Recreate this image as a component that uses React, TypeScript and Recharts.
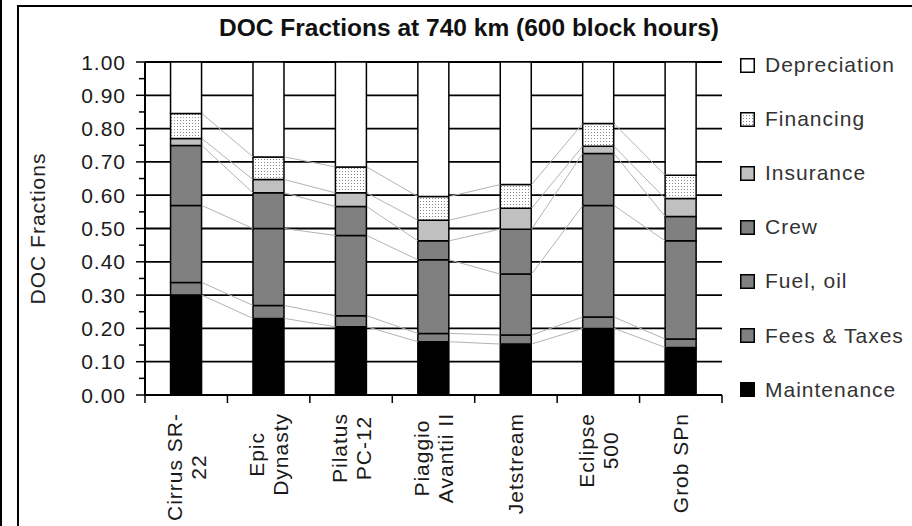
import { Bar, CartesianGrid, ComposedChart, Line, XAxis, YAxis } from "recharts";

const CATEGORIES = [
  "Cirrus SR-22",
  "Epic Dynasty",
  "Pilatus PC-12",
  "Piaggio Avantii II",
  "Jetstream",
  "Eclipse 500",
  "Grob SPn",
];
// how Excel wrapped the category labels
const CATEGORY_LINES = [
  ["Cirrus SR-", "22"],
  ["Epic", "Dynasty"],
  ["Pilatus", "PC-12"],
  ["Piaggio", "Avantii II"],
  ["Jetstream"],
  ["Eclipse", "500"],
  ["Grob SPn"],
];

const MAINTENANCE = [0.3, 0.23, 0.205, 0.16, 0.153, 0.2, 0.143];
const FEES_TAXES = [0.038, 0.039, 0.033, 0.025, 0.027, 0.034, 0.025];
const FUEL_OIL = [0.231, 0.231, 0.241, 0.221, 0.183, 0.335, 0.295];
const CREW = [0.18, 0.107, 0.087, 0.057, 0.135, 0.156, 0.073];
const INSURANCE = [0.021, 0.04, 0.041, 0.062, 0.063, 0.022, 0.054];
const FINANCING = [0.075, 0.068, 0.078, 0.071, 0.071, 0.068, 0.07];
const DEPRECIATION = [0.155, 0.285, 0.315, 0.404, 0.368, 0.185, 0.34];

const Y_TICKS = [
  0, 0.05, 0.1, 0.15, 0.2, 0.25, 0.3, 0.35, 0.4, 0.45, 0.5, 0.55, 0.6, 0.65,
  0.7, 0.75, 0.8, 0.85, 0.9, 0.95, 1,
];
const Y_GRID = [0.1, 0.2, 0.3, 0.4, 0.5, 0.6, 0.7, 0.8, 0.9, 1];

const GRAY = "#808080";
const SERIES = [
  { key: "maintenance", name: "Maintenance", values: MAINTENANCE, fill: "#000" },
  { key: "fees", name: "Fees & Taxes", values: FEES_TAXES, fill: GRAY },
  { key: "fuel", name: "Fuel, oil", values: FUEL_OIL, fill: GRAY },
  { key: "crew", name: "Crew", values: CREW, fill: GRAY },
  { key: "insurance", name: "Insurance", values: INSURANCE, fill: "#c0c0c0" },
  { key: "financing", name: "Financing", values: FINANCING, fill: "url(#dots)" },
  { key: "depreciation", name: "Depreciation", values: DEPRECIATION, fill: "#fff" },
];

const rows = CATEGORIES.map((name, i) => {
  const row: Record<string, number | string> = { name };
  let acc = 0;
  SERIES.forEach((s) => {
    row[s.key] = s.values[i];
    acc += s.values[i];
    row[`${s.key}Top`] = acc;
  });
  return row;
});

const FONT = '"Liberation Sans", Arial, sans-serif';
const FONT_SIZE = 21;
const SPACING = 1;
const BAR_GAP = 0.31;
const BAR_FRACTION = 1 - 2 * BAR_GAP;

let ctx: CanvasRenderingContext2D | null = null;
function textWidth(s: string) {
  if (!ctx) ctx = document.createElement("canvas").getContext("2d");
  if (!ctx) return s.length * 11;
  ctx.font = `${FONT_SIZE}px ${FONT}`;
  return ctx.measureText(s).width + s.length * SPACING;
}

// Excel style series lines: from the right edge of one bar to the left edge of the next
function seriesLineDot(props: any) {
  const { cx, cy, index, points } = props;
  const next = points?.[index + 1];
  if (!next || cx == null) return <g key={`sl-${index}`} />;
  const half = ((next.x - cx) * BAR_FRACTION) / 2;
  return (
    <line
      key={`sl-${index}`}
      x1={cx + half}
      y1={cy}
      x2={next.x - half}
      y2={next.y}
      stroke="#b4b4b4"
      strokeWidth={1}
    />
  );
}

function CategoryTick(props: any) {
  const { x, y, payload, index } = props;
  const i = CATEGORIES.indexOf(payload.value);
  const lines = CATEGORY_LINES[i] ?? [String(payload.value)];
  const half = payload.offset ?? 0;
  const maxW = Math.max(...lines.map(textWidth));
  return (
    <g>
      <line x1={x - half} x2={x - half} y1={y} y2={y + 8} stroke="#000" strokeWidth={1.5} />
      {index === CATEGORIES.length - 1 && (
        <line x1={x + half} x2={x + half} y1={y} y2={y + 8} stroke="#000" strokeWidth={1.5} />
      )}
      <g transform={`translate(${x},${y + 18}) rotate(-90)`}>
        {lines.map((l, j) => (
          <text
            key={j}
            x={-maxW / 2}
            y={(j - (lines.length - 1) / 2) * 24}
            textAnchor="middle"
            dominantBaseline="central"
            fontFamily={FONT}
            fontSize={FONT_SIZE}
            letterSpacing={SPACING}
            fill="#1a1a1a"
          >
            {l}
          </text>
        ))}
      </g>
    </g>
  );
}

function ValueTick(props: any) {
  const { x, y, payload } = props;
  const v = payload.value as number;
  const major = Math.round(v * 100) % 10 === 0;
  return (
    <g>
      <line x1={x - (major ? 9 : 6)} x2={x} y1={y} y2={y} stroke="#000" strokeWidth={1.5} />
      {major && (
        <text
          x={x - 19}
          y={y}
          textAnchor="end"
          dominantBaseline="central"
          fontFamily={FONT}
          fontSize={FONT_SIZE}
          letterSpacing={SPACING}
          fill="#1a1a1a"
        >
          {v.toFixed(2)}
        </text>
      )}
    </g>
  );
}

function Swatch({ fill }: { fill: string }) {
  return (
    <svg width={15} height={15} style={{ display: "block" }}>
      <defs>
        <pattern id="dotsLegend" width={3} height={3} patternUnits="userSpaceOnUse">
          <rect width={3} height={3} fill="#fff" />
          <rect width={1} height={1} fill="#888" />
        </pattern>
      </defs>
      <rect
        x={0.75}
        y={0.75}
        width={13.5}
        height={13.5}
        fill={fill === "url(#dots)" ? "url(#dotsLegend)" : fill}
        stroke="#000"
        strokeWidth={1.5}
      />
    </svg>
  );
}

export default function App() {
  return (
    <div
      style={{
        position: "absolute",
        left: 0,
        top: 0,
        width: 912,
        height: 526,
        overflow: "hidden",
        background: "#fff",
      }}
    >
      <div style={{ position: "absolute", left: 0, top: 0, width: 2, height: 526, background: "#000" }} />
      <div
        style={{
          position: "absolute",
          left: 17,
          top: 5,
          width: 960,
          height: 600,
          borderLeft: "2px solid #000",
          borderTop: "2px solid #000",
        }}
      />
      <svg style={{ position: "absolute", left: 0, top: 0 }} width={912} height={50}>
        <text
          x={469}
          y={36}
          textAnchor="middle"
          fontFamily={FONT}
          fontWeight="bold"
          fontSize={23}
          textLength={500}
          lengthAdjust="spacingAndGlyphs"
          fill="#111"
        >
          DOC Fractions at 740 km (600 block hours)
        </text>
      </svg>
      <div style={{ position: "absolute", left: 0, top: 0 }}>
        <ComposedChart
          width={912}
          height={526}
          data={rows}
          margin={{ top: 62, right: 190, bottom: 0, left: 0 }}
          barCategoryGap={`${BAR_GAP * 100}%`}
        >
          <defs>
            <pattern id="dots" width={3} height={3} patternUnits="userSpaceOnUse">
              <rect width={3} height={3} fill="#fff" />
              <rect width={1} height={1} fill="#888" />
            </pattern>
          </defs>
          <CartesianGrid
            vertical={false}
            horizontalValues={Y_GRID}
            stroke="#000"
            strokeWidth={1.8}
          />
          <XAxis
            dataKey="name"
            height={131}
            interval={0}
            tickLine={false}
            tickSize={0}
            tickMargin={0}
            axisLine={{ stroke: "#000", strokeWidth: 2 }}
            tick={CategoryTick}
          />
          <YAxis
            width={145}
            domain={[0, 1]}
            ticks={Y_TICKS}
            interval={0}
            tickLine={false}
            tickSize={0}
            tickMargin={0}
            axisLine={{ stroke: "#000", strokeWidth: 2 }}
            tick={ValueTick}
            label={(p: any) => {
              const vb = p.viewBox ?? { x: 0, y: 62, width: 145, height: 333 };
              const cy = vb.y + vb.height / 2;
              return (
                <text
                  x={vb.x + 37}
                  y={cy}
                  transform={`rotate(-90 ${vb.x + 37} ${cy})`}
                  textAnchor="middle"
                  dominantBaseline="central"
                  fontFamily={FONT}
                  fontSize={FONT_SIZE}
                  letterSpacing={SPACING}
                  fill="#222"
                >
                  DOC Fractions
                </text>
              );
            }}
          />
          <YAxis
            yAxisId="frame"
            orientation="right"
            width={0}
            domain={[0, 1]}
            tick={false}
            tickLine={false}
            axisLine={{ stroke: "#8a8a8a", strokeWidth: 1.5 }}
          />
          {SERIES.map((s) => (
            <Bar
              key={s.key}
              dataKey={s.key}
              name={s.name}
              stackId="doc"
              fill={s.fill}
              stroke="#000"
              strokeWidth={1.5}
              isAnimationActive={false}
            />
          ))}
          {SERIES.slice(0, 6).map((s) => (
            <Line
              key={`${s.key}-line`}
              dataKey={`${s.key}Top`}
              stroke="none"
              dot={seriesLineDot}
              activeDot={false}
              legendType="none"
              isAnimationActive={false}
            />
          ))}
        </ComposedChart>
      </div>
      <div style={{ position: "absolute", left: 740, top: 38 }}>
        {[...SERIES].reverse().map((s) => (
          <div key={s.key} style={{ display: "flex", alignItems: "center", height: 54.1 }}>
            <Swatch fill={s.fill} />
            <span
              style={{
                marginLeft: 10,
                fontFamily: FONT,
                fontSize: FONT_SIZE,
                letterSpacing: SPACING,
                color: "#333",
                whiteSpace: "nowrap",
              }}
            >
              {s.name}
            </span>
          </div>
        ))}
      </div>
    </div>
  );
}
